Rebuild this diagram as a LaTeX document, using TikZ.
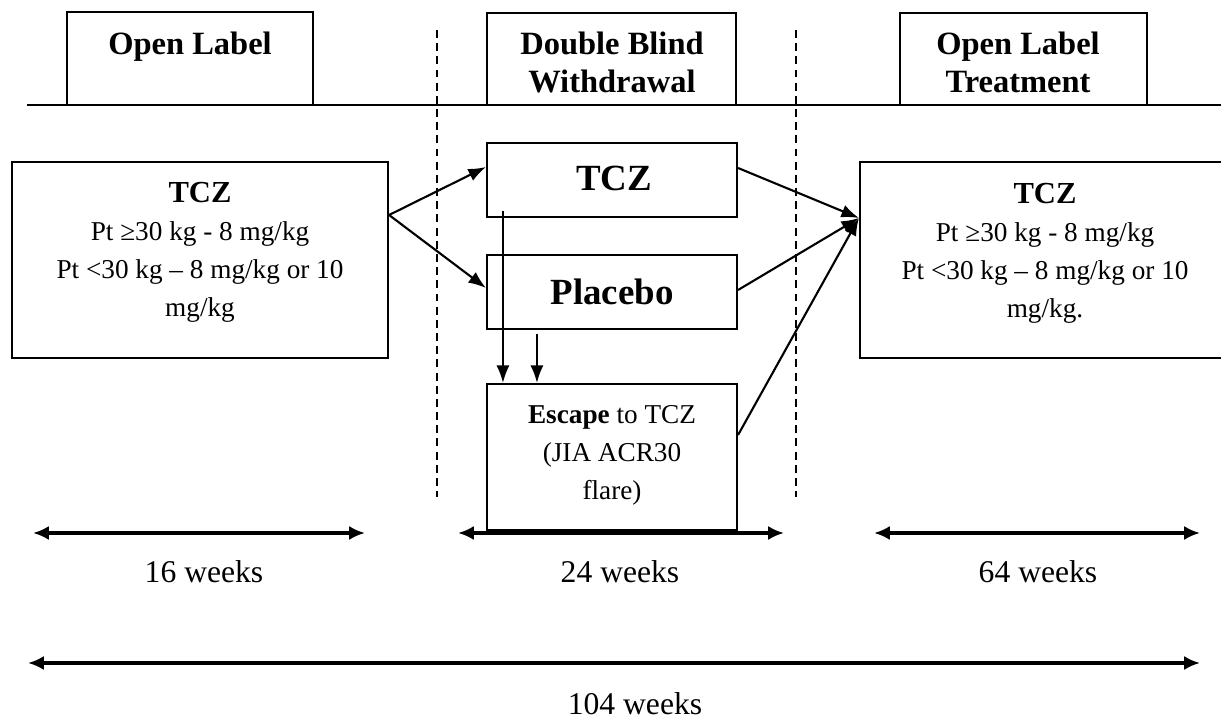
\documentclass[tikz,border=0pt]{standalone}
\usepackage{fontspec}
\setmainfont{Liberation Serif}
\usetikzlibrary{arrows.meta,fit}
\begin{document}
\begin{tikzpicture}[x=0.02cm,y=-0.02cm,
 box/.style={draw,line width=1.2pt,inner sep=0pt,rectangle},
 txt/.style={inner sep=0pt,anchor=base},
 hdr/.style={txt,font=\fontsize{18.5}{22}\selectfont\bfseries},
 body/.style={txt,font=\fontsize{15.5}{21.5}\selectfont},
 ttl/.style={txt,font=\fontsize{17.4}{21}\selectfont\bfseries},
 big/.style={txt,font=\fontsize{21}{25}\selectfont\bfseries},
 dur/.style={txt,font=\fontsize{18}{22}\selectfont},
 flow/.style={line width=1.2pt,-{Latex[length=10pt,width=7.5pt]}},
 spanarrow/.style={line width=2pt,{Latex[length=9pt,width=8pt]}-{Latex[length=9pt,width=8pt]}},
 divider/.style={line width=1pt,dash pattern=on 4.5pt off 3pt}
]
\useasboundingbox (0,0) rectangle (1221,722);

% header line and header boxes
\coordinate (hl) at (27,105);
\coordinate (hr) at (1221,105);
\draw[line width=1.2pt] (hl) -- (hr);
\node[box,fit={(67,12)(313,105)}] (h1) {};
\node[box,fit={(487,13)(736,105)}] (h2) {};
\node[box,fit={(900,13)(1147,105)}] (h3) {};
\node[hdr] (h1a) at (190,55) {Open Label};
\node[hdr] (h2a) at (612,55) {Double Blind};
\node[hdr] (h2b) at (612,93) {Withdrawal};
\node[hdr] (h3a) at (1018,55) {Open Label};
\node[hdr] (h3b) at (1018,93) {Treatment};

% dashed dividers
\coordinate (d1t) at (437,30);
\coordinate (d1b) at (437,497);
\coordinate (d2t) at (796,30);
\coordinate (d2b) at (796,497);
\draw[divider] (d1t) -- (d1b);
\draw[divider] (d2t) -- (d2b);

% left box
\node[box,fit={(12,162)(388,358)}] (L) {};
\node[ttl] (L1) at (200,203) {TCZ};
\node[body] (L2) at (200,241) {Pt ≥30 kg - 8 mg/kg};
\node[body] (L3) at (200,279) {Pt <30 kg – 8 mg/kg or 10};
\node[body] (L4) at (200,317) {mg/kg};

% middle boxes
\node[box,fit={(487,143)(737,217)}] (T) {};
\node[big] (T1) at (614,191) {TCZ};
\node[box,fit={(487,255)(737,329)}] (P) {};
\node[big] (P1) at (612,305) {Placebo};
\node[box,fit={(487,384)(737,530)}] (E) {};
\node[body] (E1) at (612,424) {\textbf{Escape} to TCZ};
\node[body] (E2) at (612,462) {(JIA ACR30};
\node[body] (E3) at (612,500) {flare)};

% right box
\node[box,fit={(860,162)(1226,358)}] (R) {};
\node[ttl] (R1) at (1045,204) {TCZ};
\node[body] (R2) at (1045,242) {Pt ≥30 kg - 8 mg/kg};
\node[body] (R3) at (1045,280) {Pt <30 kg – 8 mg/kg or 10};
\node[body] (R4) at (1045,318) {mg/kg.};

% flow arrows
\draw[flow] ([yshift=0.9cm]L.east) -- ([yshift=0.26cm]T.west);
\draw[flow] ([yshift=0.9cm]L.east) -- ([yshift=0.08cm]P.west);
\draw[flow] ([yshift=0.24cm]T.east) -- ([yshift=0.84cm]R.west);
\draw[flow] ([yshift=0.04cm]P.east) -- ([yshift=0.84cm]R.west);
\draw[flow] ([yshift=0.44cm]E.east) -- ([yshift=0.84cm]R.west);
\draw[flow] ([xshift=0.34cm,yshift=0.14cm]T.south west) -- ([xshift=0.34cm]E.north west);
\draw[flow] ([xshift=1.02cm,yshift=-0.08cm]P.south west) -- ([xshift=1.02cm]E.north west);

% duration arrows
\coordinate (a1) at (33,533);
\coordinate (b1) at (365,533);
\coordinate (a2) at (458,533);
\coordinate (b2) at (784,533);
\coordinate (a3) at (874,533);
\coordinate (b3) at (1200,533);
\coordinate (a4) at (28,663);
\coordinate (b4) at (1200,663);
\draw[spanarrow] (a1) -- (b1);
\draw[spanarrow] (a2) -- (b2);
\draw[spanarrow] (a3) -- (b3);
\draw[spanarrow] (a4) -- (b4);
\node[dur] (w1) at (204,583) {16 weeks};
\node[dur] (w2) at (620,583) {24 weeks};
\node[dur] (w3) at (1038,583) {64 weeks};
\node[dur] (w4) at (635,714) {104 weeks};
\end{tikzpicture}
\end{document}
